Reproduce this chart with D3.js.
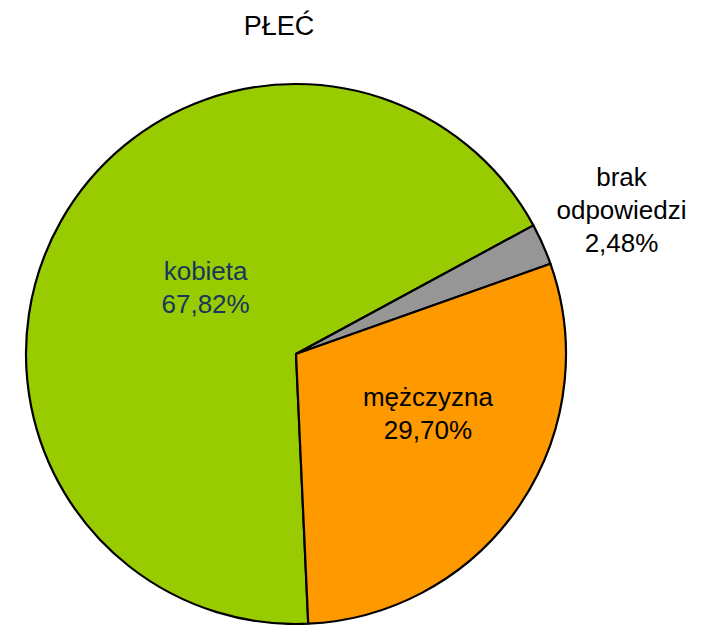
<!DOCTYPE html>
<html>
<head>
<meta charset="utf-8">
<script src="https://cdn.jsdelivr.net/npm/d3@7"></script>
<style>
  body { margin: 0; background: #fff; }
  text { font-family: "Liberation Sans", Arial, sans-serif; }
</style>
</head>
<body>
<div id="chart"></div>
<script>
// data, in drawing order (clockwise)
const categories = ["kobieta", "brak odpowiedzi", "mężczyzna"];
const percents = [67.82, 2.48, 29.70];
const labelLines = [["kobieta"], ["brak", "odpowiedzi"], ["mężczyzna"]];
const colors = ["#99cc00", "#969696", "#ff9900"];
const labelColors = ["#17375e", "#000000", "#000000"];

const width = 704, height = 625;
const cx = 296, cy = 354, r = 270;

const svg = d3.select("#chart")
    .append("svg")
    .attr("width", width)
    .attr("height", height);

svg.append("text")
    .attr("x", 279)
    .attr("y", 35)
    .attr("text-anchor", "middle")
    .style("font-size", "27px")
    .text("PŁEĆ");

const pie = d3.pie()
    .sort(null)
    .startAngle(177.4 * Math.PI / 180)
    .endAngle((177.4 + 360) * Math.PI / 180);

const arcs = pie(percents);
const arc = d3.arc().innerRadius(0).outerRadius(r);

const g = svg.append("g").attr("transform", `translate(${cx},${cy})`);

g.selectAll("path")
    .data(arcs)
    .enter()
    .append("path")
    .attr("d", arc)
    .attr("fill", (d, i) => colors[i])
    .attr("stroke", "#000")
    .attr("stroke-width", 2.2)
    .attr("stroke-linejoin", "round");

// label radius per slice (fraction of r); small slice label sits outside
const labelK = [0.41, 1.3, 0.55];
const shiftAngle = [2, -2, -5]; // degrees
const nudge = [[4, -9], [10, 10], [2, -12]]; // px, to match excel placement

const labels = g.selectAll(".lbl")
    .data(arcs)
    .enter()
    .append("text")
    .attr("class", "lbl")
    .attr("text-anchor", "middle")
    .style("font-size", "26px")
    .attr("fill", (d, i) => labelColors[i])
    .attr("transform", (d, i) => {
        const a = (d.startAngle + d.endAngle) / 2 + shiftAngle[i] * Math.PI / 180;
        const rr = r * labelK[i];
        return `translate(${rr * Math.sin(a) + nudge[i][0]},${-rr * Math.cos(a) + nudge[i][1]})`;
    });

labels.each(function (d, i) {
    const lines = labelLines[i].concat([d3.format(".2f")(percents[i]).replace(".", ",") + "%"]);
    const lh = 33;
    const top = -((lines.length - 1) * lh) / 2 + 9;
    lines.forEach((t, j) => {
        d3.select(this).append("tspan")
            .attr("x", 0)
            .attr("y", top + j * lh)
            .text(t);
    });
});
</script>
</body>
</html>
